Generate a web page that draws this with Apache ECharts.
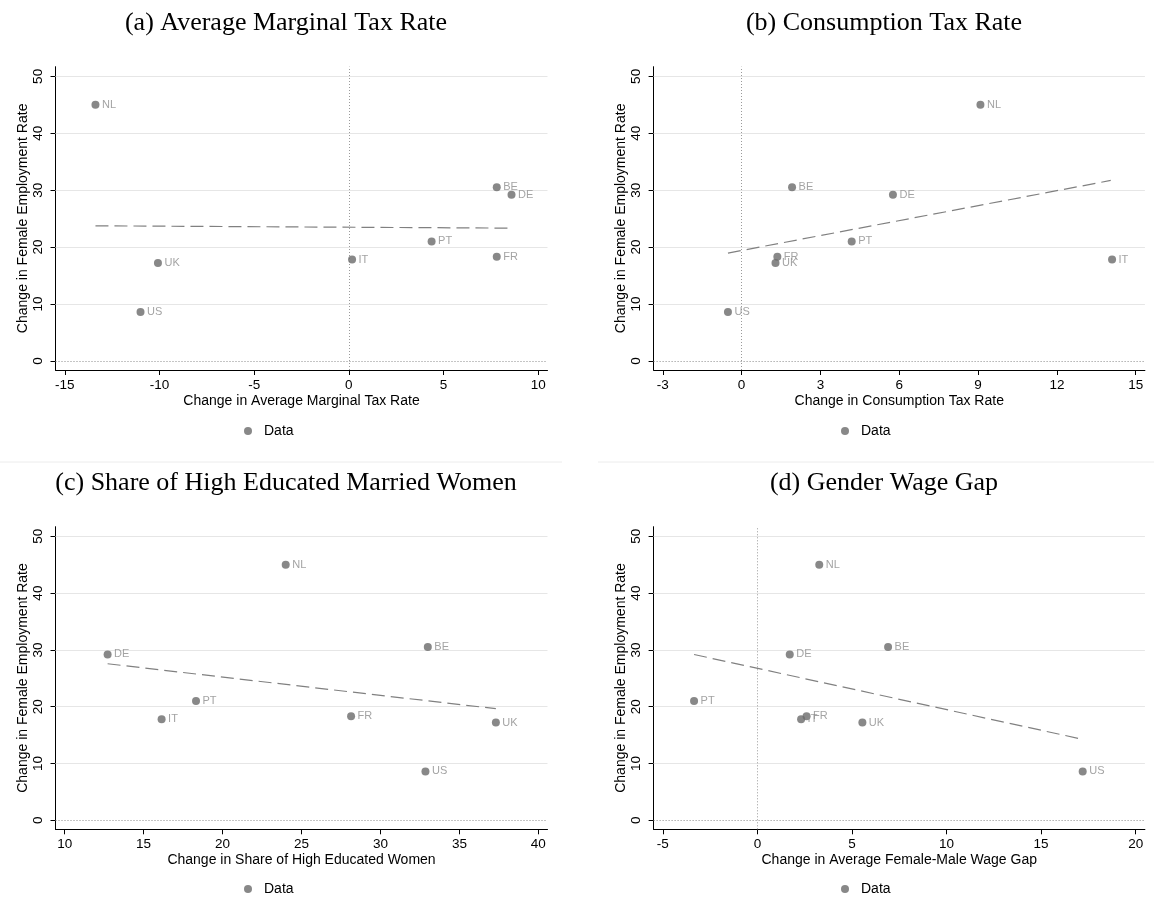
<!DOCTYPE html>
<html>
<head>
<meta charset="utf-8">
<script src="https://cdn.jsdelivr.net/npm/echarts@6/dist/echarts.min.js"></script>
<style>
html,body{margin:0;padding:0;background:#fff;}
#chart{width:1157px;height:918px;}
</style>
</head>
<body>
<div id="chart"></div>
<script>
// ---------- data ----------
const countries = ['NL','BE','DE','PT','FR','IT','UK','US'];
const empChange = [45.0, 30.5, 29.2, 21.0, 18.3, 17.8, 17.2, 8.6];
const mtrChange = [-13.38, 7.81, 8.59, 4.37, 7.81, 0.17, -10.08, -11.0];
const consTaxChange = [9.09, 1.92, 5.76, 4.19, 1.36, 14.1, 1.29, -0.52];
const highEduChange = [24.0, 33.0, 12.72, 18.32, 28.14, 16.14, 37.31, 32.85];
const wageGapChange = [3.27, 6.91, 1.71, -3.35, 2.60, 2.31, 5.55, 17.20];

// fitted lines (endpoints)
const fitA = [[-13.38, 23.74], [8.59, 23.33]];
const fitB = [[-0.52, 18.94], [14.05, 31.71]];
const fitC = [[12.72, 27.56], [37.31, 19.64]];
const fitD = [[-3.35, 29.19], [17.2, 14.25]];

const panelTitles = ['(a) Average Marginal Tax Rate', '(b) Consumption Tax Rate',
  '(c) Share of High Educated Married Women', '(d) Gender Wage Gap'];
const xTitles = ['Change in Average Marginal Tax Rate', 'Change in Consumption Tax Rate',
  'Change in Share of High Educated Women', 'Change in Average Female-Male Wage Gap'];
const yTitle = 'Change in Female Employment Rate';
const xTicksA = [-15, -10, -5, 0, 5, 10];
const xTicksB = [-3, 0, 3, 6, 9, 12, 15];
const xTicksC = [10, 15, 20, 25, 30, 35, 40];
const xTicksD = [-5, 0, 5, 10, 15, 20];
const yTicks = [0, 10, 20, 30, 40, 50];
const gridValues = [10, 20, 30, 40, 50];

// ---------- layout ----------
const SANS = 'Liberation Sans, Arial, sans-serif';
const SERIF = 'Liberation Serif, Times New Roman, serif';
const panels = [
  {x: mtrChange, fit: fitA, ticks: xTicksA, min: -15.49, max: 10.49, vline: true,
   grid: {left: 55.5, top: 66.7, width: 492, height: 303.3}, titleX: 281, titleY: 5, legX: 239, legY: 419},
  {x: consTaxChange, fit: fitB, ticks: xTicksB, min: -3.35, max: 15.35, vline: true,
   grid: {left: 653.6, top: 66.7, width: 491.3, height: 303.3}, titleX: 879, titleY: 5, legX: 836, legY: 419},
  {x: highEduChange, fit: fitC, ticks: xTicksC, min: 9.42, max: 40.58, vline: false,
   grid: {left: 55.5, top: 526.7, width: 492, height: 302.6}, titleX: 281, titleY: 465, legX: 239, legY: 877},
  {x: wageGapChange, fit: fitD, ticks: xTicksD, min: -5.49, max: 20.49, vline: true,
   grid: {left: 653.6, top: 526.7, width: 491.3, height: 302.6}, titleX: 879, titleY: 465, legX: 836, legY: 877}
];

const DOT = '#6a6a6a';
const option = {
  backgroundColor: '#fff',
  animation: false,
  title: [], legend: [], grid: [], xAxis: [], yAxis: [], series: [],
  graphic: [
    {type: 'line', shape: {x1: 0, y1: 462, x2: 562, y2: 462}, style: {stroke: '#ececec', lineWidth: 1}},
    {type: 'line', shape: {x1: 598, y1: 462, x2: 1154, y2: 462}, style: {stroke: '#ececec', lineWidth: 1}}
  ]
};

panels.forEach((p, i) => {
  option.title.push({text: panelTitles[i], left: p.titleX, top: p.titleY, textAlign: 'center',
    textStyle: {fontFamily: SERIF, fontSize: 26, fontWeight: 'normal', color: '#000'}});
  option.legend.push({data: ['Data'], left: p.legX, top: p.legY, icon: 'circle',
    itemWidth: 22, itemHeight: 8, selectedMode: false,
    textStyle: {fontFamily: SANS, fontSize: 14, color: '#000'}});
  option.grid.push(Object.assign({containLabel: false}, p.grid));
  option.xAxis.push({type: 'value', gridIndex: i, min: p.min, max: p.max,
    name: xTitles[i], nameLocation: 'middle', nameGap: 24,
    nameTextStyle: {fontFamily: SANS, fontSize: 14, color: '#000'},
    axisLine: {show: true, onZero: false, lineStyle: {color: '#000', width: 1}},
    axisTick: {show: true, length: 5, customValues: p.ticks, lineStyle: {color: '#000'}},
    axisLabel: {customValues: p.ticks, margin: 8, fontFamily: SANS, fontSize: 13.5, color: '#000'},
    splitLine: {show: false}});
  option.yAxis.push({type: 'value', gridIndex: i, min: -1.6, max: 51.7,
    name: yTitle, nameLocation: 'middle', nameGap: 25, nameRotate: 90,
    nameTextStyle: {fontFamily: SANS, fontSize: 14, color: '#000'},
    axisLine: {show: true, onZero: false, lineStyle: {color: '#000', width: 1}},
    axisTick: {show: true, length: 5, customValues: yTicks, lineStyle: {color: '#000'}},
    axisLabel: {customValues: yTicks, rotate: 90, margin: 10, fontFamily: SANS, fontSize: 13.5, color: '#000'},
    splitLine: {show: false}});

  const refLines = gridValues.map(v => ({yAxis: v, lineStyle: {color: '#e6e6e6', type: 'solid', width: 1}}));
  refLines.push({yAxis: 0, lineStyle: {color: '#8a8a8a', type: [1, 2], width: 1}});
  if (p.vline) refLines.push({xAxis: 0, lineStyle: {color: '#9a9a9a', type: [1, 2], width: 1}});

  option.series.push({type: 'line', name: 'Fitted', xAxisIndex: i, yAxisIndex: i,
    data: p.fit, symbol: 'none', silent: true, z: 3,
    lineStyle: {color: '#808080', width: 1.2, type: [13, 6]},
    markLine: {silent: true, symbol: 'none', label: {show: false}, data: refLines, z: 1}});

  option.series.push({type: 'scatter', name: 'Data', xAxisIndex: i, yAxisIndex: i, z: 4,
    symbol: 'circle', symbolSize: 8, itemStyle: {color: DOT},
    data: countries.map((c, k) => ({name: c, value: [p.x[k], empChange[k]]})),
    label: {show: true, position: 'right', distance: 2.5, formatter: '{b}',
      fontFamily: SANS, fontSize: 11, color: '#8c8c8c'}});
});

const chart = echarts.init(document.getElementById('chart'), null, {renderer: 'canvas'});
chart.setOption(option);
</script>
</body>
</html>
